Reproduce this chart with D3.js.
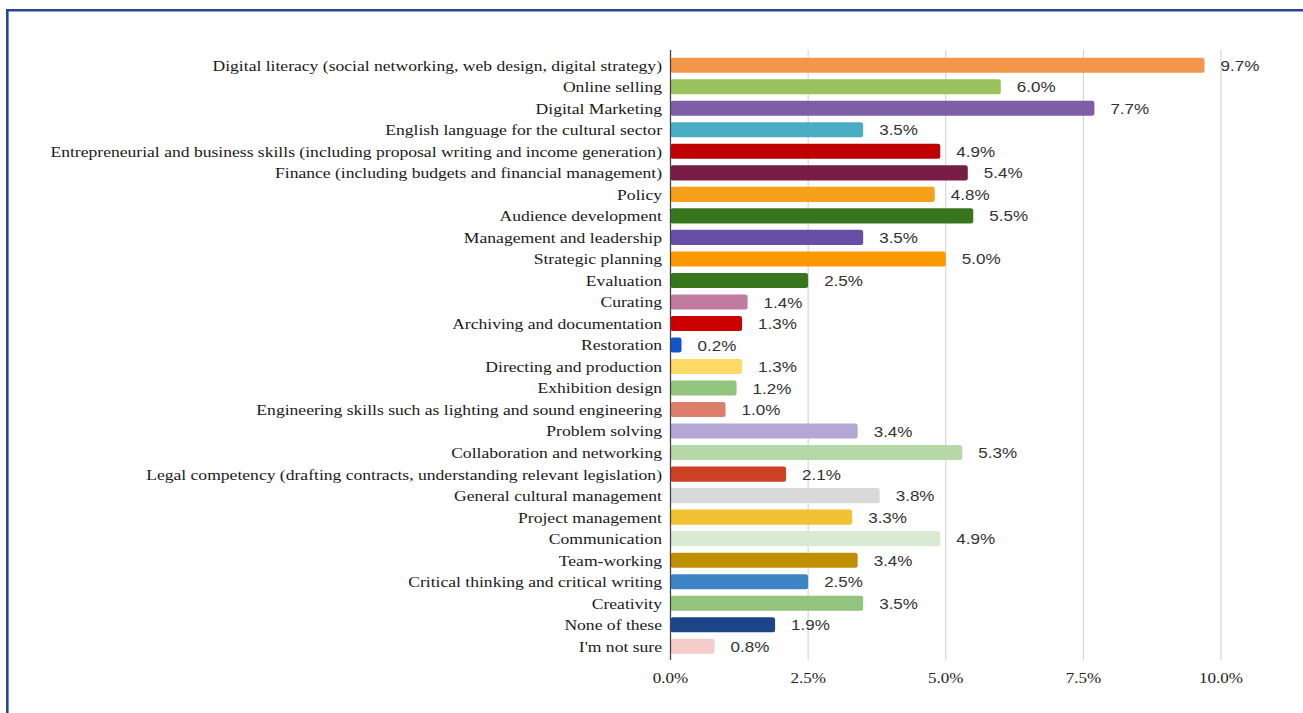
<!DOCTYPE html>
<html>
<head>
<meta charset="utf-8">
<script src="https://cdn.jsdelivr.net/npm/d3@7"></script>
<style>
  html, body { margin: 0; padding: 0; background: #fff; }
  svg { display: block; }
</style>
</head>
<body>
<svg id="chart" width="1303" height="713"></svg>
<script>
// Skills categories, top to bottom
const categories = [
  "Digital literacy (social networking, web design, digital strategy)",
  "Online selling",
  "Digital Marketing",
  "English language for the cultural sector",
  "Entrepreneurial and business skills (including proposal writing and income generation)",
  "Finance (including budgets and financial management)",
  "Policy",
  "Audience development",
  "Management and leadership",
  "Strategic planning",
  "Evaluation",
  "Curating",
  "Archiving and documentation",
  "Restoration",
  "Directing and production",
  "Exhibition design",
  "Engineering skills such as lighting and sound engineering",
  "Problem solving",
  "Collaboration and networking",
  "Legal competency (drafting contracts, understanding relevant legislation)",
  "General cultural management",
  "Project management",
  "Communication",
  "Team-working",
  "Critical thinking and critical writing",
  "Creativity",
  "None of these",
  "I'm not sure"
];

// Share of responses (%)
const values = [9.7, 6.0, 7.7, 3.5, 4.9, 5.4, 4.8, 5.5, 3.5, 5.0, 2.5, 1.4, 1.3, 0.2,
                1.3, 1.2, 1.0, 3.4, 5.3, 2.1, 3.8, 3.3, 4.9, 3.4, 2.5, 3.5, 1.9, 0.8];

const barColors = [
  "#f39649", "#9bc25c", "#7f5ea8", "#4bacc6", "#c00000", "#771c44", "#f7a11b",
  "#38761d", "#674ea7", "#ff9900", "#38761d", "#c27ba0", "#cc0000", "#1155cc",
  "#ffd966", "#93c47d", "#dd7e6b", "#b4a7d6", "#b6d7a8", "#cc4125", "#d9d9d9",
  "#f1c232", "#d9ead3", "#bf9000", "#3d85c6", "#93c47d", "#1c4587", "#f4cccc"
];

const xTicks = [0, 2.5, 5, 7.5, 10];

// Text is drawn slightly widened horizontally
const SX = 1.135;

const svg = d3.select("#chart");

// Frame
svg.append("path")
  .attr("d", "M7.3,713 V10.2 H1303")
  .attr("fill", "none")
  .attr("stroke", "#28449a")
  .attr("stroke-width", 2.6);

const x = d3.scaleLinear().domain([0, 10]).range([670.5, 1221]);
const y = d3.scaleBand().domain(categories).range([54.5, 657]).paddingInner(0.3).paddingOuter(0.15);

// Vertical grid lines
svg.append("g").selectAll("line")
  .data(xTicks.slice(1))
  .join("line")
  .attr("x1", d => x(d)).attr("x2", d => x(d))
  .attr("y1", 50).attr("y2", 660)
  .attr("stroke", "#cfcfcf").attr("stroke-width", 1);

// Bars
svg.append("g").selectAll("rect")
  .data(categories)
  .join("rect")
  .attr("x", x(0))
  .attr("y", d => y(d))
  .attr("width", (d, i) => x(values[i]) - x(0))
  .attr("height", y.bandwidth())
  .attr("rx", 2.5)
  .attr("fill", (d, i) => barColors[i]);

// Baseline
svg.append("line")
  .attr("x1", x(0)).attr("x2", x(0))
  .attr("y1", 50).attr("y2", 660)
  .attr("stroke", "#444").attr("stroke-width", 1.3);

// Category labels
svg.append("g").selectAll("text")
  .data(categories)
  .join("text")
  .attr("transform", d => `translate(662,${y(d) + y.bandwidth() / 2}) scale(${SX},1)`)
  .attr("dy", "0.35em")
  .attr("text-anchor", "end")
  .attr("font-family", "'Liberation Serif', 'Times New Roman', serif")
  .attr("font-size", 15.5)
  .attr("fill", "#1a1a1a")
  .text(d => d);

// Value labels
svg.append("g").selectAll("text")
  .data(categories)
  .join("text")
  .attr("transform", (d, i) => `translate(${x(values[i]) + 16},${y(d) + y.bandwidth() / 2}) scale(${SX},1)`)
  .attr("dy", "0.37em")
  .attr("font-family", "'Liberation Sans', Arial, sans-serif")
  .attr("font-size", 15)
  .attr("fill", "#333")
  .text((d, i) => values[i].toFixed(1) + "%");

// X axis tick labels
svg.append("g").selectAll("text")
  .data(xTicks)
  .join("text")
  .attr("transform", d => `translate(${x(d)},683) scale(${SX},1)`)
  .attr("text-anchor", "middle")
  .attr("font-family", "'Liberation Serif', 'Times New Roman', serif")
  .attr("font-size", 15)
  .attr("fill", "#222")
  .text(d => d.toFixed(1) + "%");
</script>
</body>
</html>
